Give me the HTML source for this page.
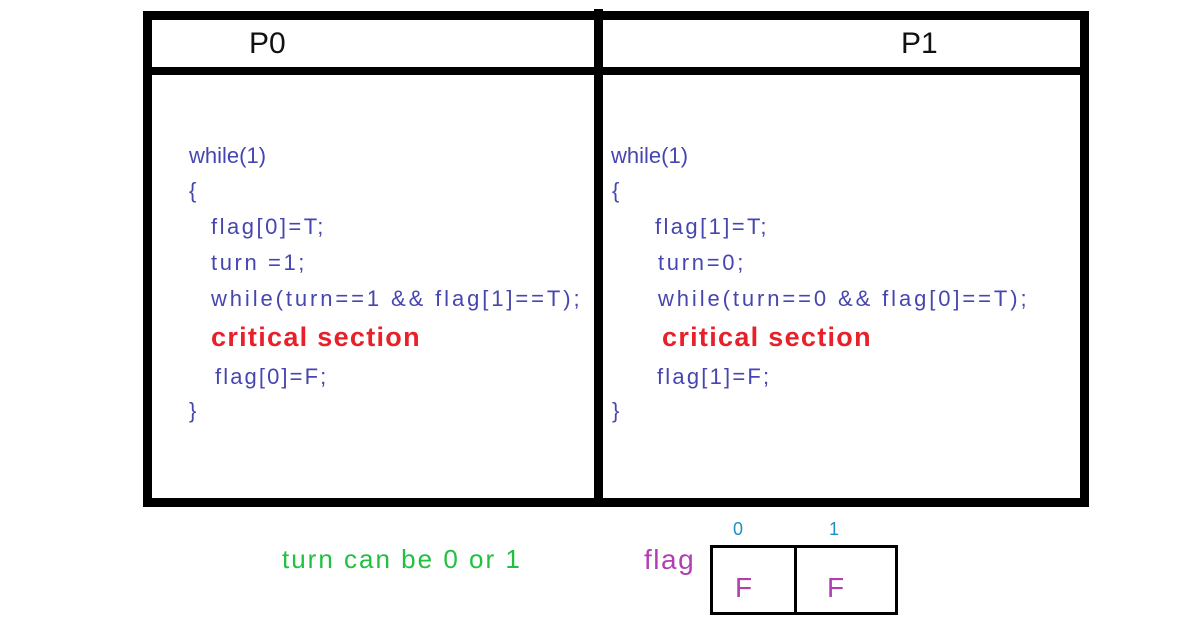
<!DOCTYPE html>
<html><head><style>
body{margin:0;width:1200px;height:630px;background:#fff;position:relative;overflow:hidden;font-family:"Liberation Sans",sans-serif}
.b{position:absolute;background:#000}
.t{position:absolute;white-space:nowrap;font-size:22px;color:#4646b0;line-height:1;letter-spacing:2.6px}
.c{position:absolute;white-space:nowrap;font-size:27px;font-weight:bold;color:#e8202a;line-height:1;letter-spacing:1.3px}
</style></head><body>
<div class="b" style="left:143px;top:11px;width:946px;height:9px"></div>
<div class="b" style="left:143px;top:498px;width:946px;height:9px"></div>
<div class="b" style="left:143px;top:11px;width:9px;height:496px"></div>
<div class="b" style="left:1080px;top:11px;width:9px;height:496px"></div>
<div class="b" style="left:594px;top:9px;width:9px;height:490px"></div>
<div class="b" style="left:143px;top:67px;width:946px;height:8px"></div>
<div class="t" style="left:249px;top:29px;font-size:30px;color:#111;letter-spacing:0">P0</div>
<div class="t" style="left:901px;top:29px;font-size:30px;color:#111;letter-spacing:0">P1</div>

<div class="t" style="left:189px;top:145px;letter-spacing:0">while(1)</div>
<div class="t" style="left:189px;top:180px">{</div>
<div class="t" style="left:211px;top:216px;letter-spacing:2.5px">flag[0]=T;</div>
<div class="t" style="left:211px;top:252px">turn =1;</div>
<div class="t" style="left:211px;top:288px;letter-spacing:2.9px">while(turn==1 &amp;&amp; flag[1]==T);</div>
<div class="c" style="left:211px;top:324px">critical section</div>
<div class="t" style="left:215px;top:366px;letter-spacing:2.1px">flag[0]=F;</div>
<div class="t" style="left:189px;top:400px">}</div>

<div class="t" style="left:611px;top:145px;letter-spacing:0">while(1)</div>
<div class="t" style="left:612px;top:180px">{</div>
<div class="t" style="left:655px;top:216px;letter-spacing:2.4px">flag[1]=T;</div>
<div class="t" style="left:658px;top:252px;letter-spacing:2.7px">turn=0;</div>
<div class="t" style="left:658px;top:288px;letter-spacing:2.9px">while(turn==0 &amp;&amp; flag[0]==T);</div>
<div class="c" style="left:662px;top:324px">critical section</div>
<div class="t" style="left:657px;top:366px;letter-spacing:2.2px">flag[1]=F;</div>
<div class="t" style="left:612px;top:400px">}</div>

<div class="t" style="left:282px;top:546px;font-size:26px;color:#22c040;letter-spacing:2px">turn can be 0 or 1</div>
<div class="t" style="left:644px;top:546px;font-size:28px;color:#b040b0;letter-spacing:1.5px">flag</div>
<div class="t" style="left:733px;top:520px;font-size:18px;color:#1e8fc0;letter-spacing:0">0</div>
<div class="t" style="left:829px;top:520px;font-size:18px;color:#1e8fc0;letter-spacing:0">1</div>
<div style="position:absolute;left:710px;top:545px;width:182px;height:64px;border:3px solid #000"></div>
<div class="b" style="left:794px;top:545px;width:3px;height:70px"></div>
<div class="t" style="left:735px;top:574px;font-size:28px;color:#b040b0;letter-spacing:0">F</div>
<div class="t" style="left:827px;top:574px;font-size:28px;color:#b040b0;letter-spacing:0">F</div>
</body></html>
